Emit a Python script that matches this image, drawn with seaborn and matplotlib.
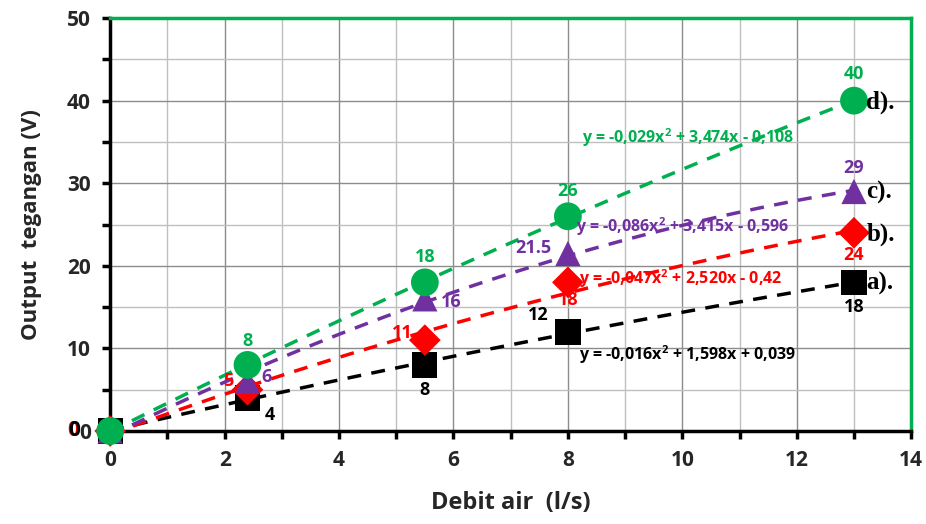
import numpy as np
import matplotlib.pyplot as plt
import seaborn as sns
import pandas as pd
from matplotlib.ticker import MultipleLocator

# ─── Data ────────────────────────────────────────────────────────────────────
debit = [0, 2.4, 5.5, 8, 13]
volt_a = [0, 4, 8, 12, 18]
volt_b = [0, 5, 11, 18, 24]
volt_c = [0, 6, 16, 21.5, 29]
volt_d = [0, 8, 18, 26, 40]

series_names = ["a).", "b).", "c).", "d)."]
series_vals = [volt_a, volt_b, volt_c, volt_d]
colors = ["#000000", "#ff0000", "#7030a0", "#00b050"]
markers = ["s", "D", "^", "o"]
msizes = [330, 260, 330, 400]
equations = [
    "y = -0,016x$^\\mathbf{2}$ + 1,598x + 0,039",
    "y = -0,047x$^\\mathbf{2}$ + 2,520x - 0,42",
    "y = -0,086x$^\\mathbf{2}$ + 3,415x - 0,596",
    "y = -0,029x$^\\mathbf{2}$ + 3,474x - 0,108",
]
eq_pos = [(8.2, 9.3), (8.2, 18.4), (8.15, 24.7), (8.25, 35.5)]

# label offsets (points) per series per point
label_offsets = [
    [(0, 0), (16, -12), (0, -18), (-21, 12), (0, -18)],
    [(0, 0), (-14, 6), (-16, 5), (0, -13), (0, -16)],
    [(0, 0), (14, 3), (19, -2), (-25, 4), (0, 17)],
    [(0, 0), (0, 17), (0, 18), (0, 18), (0, 19)],
]

sns.set_style("white")
plt.rcParams["font.family"] = ["Open Sans", "DejaVu Sans"]
plt.rcParams["mathtext.fontset"] = "custom"
plt.rcParams["mathtext.bf"] = "Open Sans:bold"
plt.rcParams["mathtext.rm"] = "Open Sans:bold"

fig = plt.figure(figsize=(9.26, 5.24), dpi=100)
ax = fig.add_axes([0.119, 0.1775, 0.865, 0.788])

ax.set_xlim(0, 14)
ax.set_ylim(0, 50)
ax.xaxis.set_major_locator(MultipleLocator(2))
ax.xaxis.set_minor_locator(MultipleLocator(1))
ax.yaxis.set_major_locator(MultipleLocator(10))
ax.yaxis.set_minor_locator(MultipleLocator(5))
ax.grid(which="major", color="#8c8c8c", linewidth=1.0)
ax.grid(which="minor", color="#bfbfbf", linewidth=1.0)
ax.set_axisbelow(True)

# trendlines (2nd order polynomial)
xs = np.linspace(0, 13, 100)
for vals, col in zip(series_vals, colors):
    coef = np.polyfit(debit, vals, 2)
    df_t = pd.DataFrame({"x": xs, "y": np.polyval(coef, xs)})
    sns.lineplot(data=df_t, x="x", y="y", ax=ax, color=col, linewidth=2.5,
                 linestyle=(0, (4, 3)), zorder=3)

# markers
for vals, col, mk, ms in zip(series_vals, colors, markers, msizes):
    df = pd.DataFrame({"x": debit, "y": vals})
    sns.scatterplot(data=df, x="x", y="y", ax=ax, color=col, marker=mk, s=ms,
                    edgecolor="none", zorder=4, clip_on=False)

# data labels
for vals, col, offs in zip(series_vals, colors, label_offsets):
    for xv, yv, off in zip(debit[1:], vals[1:], offs[1:]):
        lab = f"{yv:g}"
        ax.annotate(lab, (xv, yv), xytext=off, textcoords="offset points",
                    ha="center", va="center", color=col, fontsize=13,
                    fontweight="bold", zorder=5)

# zero labels
ax.annotate("0", (0, 0), xytext=(-27, 0), textcoords="offset points",
            ha="center", va="center", color="#ff0000", fontsize=15,
            fontweight="bold", annotation_clip=False)
ax.annotate("0", (0, 0), xytext=(-26, 0), textcoords="offset points",
            ha="center", va="center", color="#000000", fontsize=15,
            fontweight="bold", annotation_clip=False)

# equations
for eq, (ex, ey), col in zip(equations, eq_pos, colors):
    ax.text(ex, ey, eq, color=col, fontsize=11.5, fontweight="bold",
            ha="left", va="center", zorder=5)

# series tags
for name, vals, col in zip(series_names, series_vals, colors):
    ax.annotate(name, (13, vals[-1]), xytext=(9, -1), textcoords="offset points",
                ha="left", va="center", fontsize=18, fontweight="bold",
                family="Liberation Serif", color="#000000", zorder=5)

for side in ["left", "bottom"]:
    ax.spines[side].set_color("black")
    ax.spines[side].set_linewidth(2.5)
for side in ["top", "right"]:
    ax.spines[side].set_color("#00b050")
    ax.spines[side].set_linewidth(2.5)

ax.tick_params(which="both", direction="out", color="black", width=2.5,
               bottom=True, left=True)
ax.tick_params(which="major", length=6, labelsize=15, pad=8)
ax.tick_params(which="minor", length=6)
for lab in ax.get_xticklabels() + ax.get_yticklabels():
    lab.set_fontweight("bold")

ax.set_xlabel("Debit air  (l/s)", fontsize=17, fontweight="bold", labelpad=14)
ax.set_ylabel("Output  tegangan (V)", fontsize=16, fontweight="bold", labelpad=18)

plt.savefig("out.png", dpi=100)
plt.close()
